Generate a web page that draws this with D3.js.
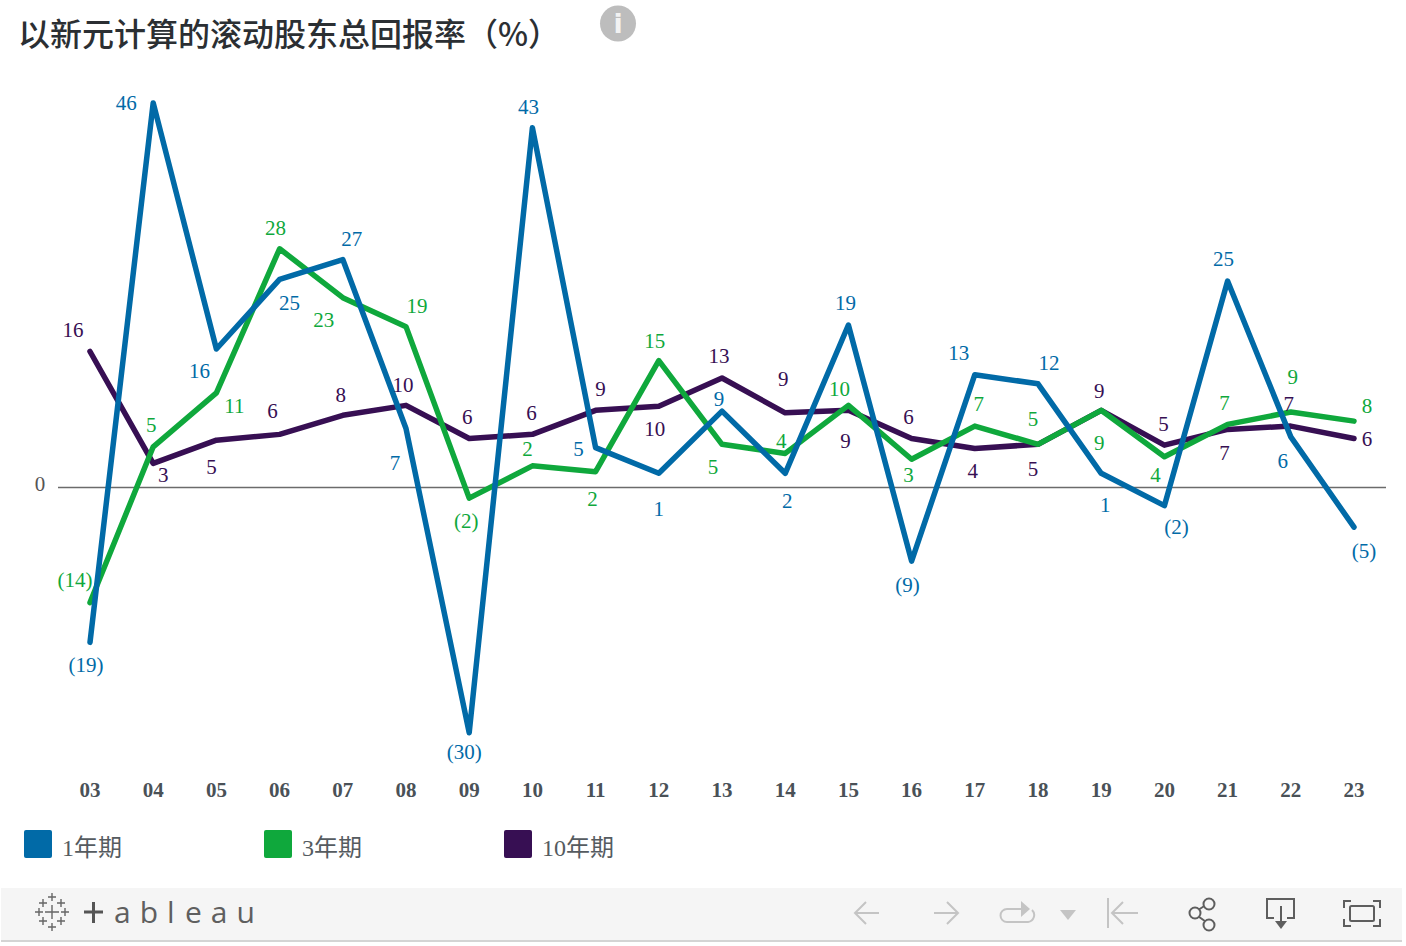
<!DOCTYPE html>
<html><head><meta charset="utf-8">
<script src="https://cdn.jsdelivr.net/npm/d3@7"></script>
<style>
html,body{margin:0;padding:0;background:#fff;overflow:hidden}
svg{display:block}
text{font-family:"Liberation Serif","Noto Sans CJK SC",serif}
</style></head><body>
<svg id="c" width="1406" height="946"></svg>
<script>
const titleText = "以新元计算的滚动股东总回报率（%）";
const years = ["03","04","05","06","07","08","09","10","11","12","13","14","15","16","17","18","19","20","21","22","23"];
const seriesNames = ["1年期","3年期","10年期"];

const oneYear = [-18.7,46.4,16.7,25.1,27.5,7.1,-29.6,43.4,4.8,1.7,9.2,1.7,19.6,-8.9,13.6,12.5,1.7,-2.2,24.9,6.1,-4.8];
const threeYear = [-13.9,4.9,11.4,28.8,22.9,19.4,-1.3,2.6,1.9,15.3,5.2,4.1,9.9,3.4,7.4,5.2,9.3,3.7,7.6,9.1,8.0];
const tenYear = [16.4,2.9,5.7,6.4,8.7,9.9,5.9,6.4,9.3,9.8,13.2,9.0,9.3,5.9,4.7,5.2,9.3,5.1,7.0,7.4,5.9];

const oneYearLabels = ["(19)","46","16","25","27","7","(30)","43","5","1","9","2","19","(9)","13","12","1","(2)","25","6","(5)"];
const threeYearLabels = ["(14)","5","11","28","23","19","(2)","2","2","15","5","4","10","3","7","5","9","4","7","9","8"];
const tenYearLabels = ["16","3","5","6","8","10","6","6","9","10","13","9","9","6","4","5","9","5","7","7","6"];

// manual placement of each value label relative to its point (px)
const oneYearDx = [-4,-27,-17,10,9,-11,-5,-4,-17,0,-3,2,-3,-4,-16,11,4,12,-4,-8,10];
const oneYearDy = [23,1,23,24,-20,35,20,-20,2,36,-12,28,-21,24,-21,-20,32,22,-21,25,24];
const threeYearDx = [-15,-2,18,-4,-19,11,-3,-5,-3,-4,-9,-4,-9,-3,4,-5,-2,-9,-3,2,13];
const threeYearDy = [-22,-21,14,-20,23,-20,23,-16,28,-19,23,-12,-16,16,-21,-25,33,19,-21,-34,-14];
const tenYearDx = [-17,10,-5,-7,-2,-3,-2,-1,5,-4,-3,-2,-3,-3,-2,-5,-2,-1,-3,-2,13];
const tenYearDy = [-21,12,27,-23,-20,-20,-21,-21,-21,23,-21,-33,31,-21,23,25,-19,-20,24,-21,1];

const colors = ["#016aa7","#0fa83c","#370f53"];
const svg = d3.select("#c");

const x = d3.scalePoint().domain(years).range([90,1354]);
const y = d3.scaleLinear().domain([-30,46.4]).range([736,102.9]);

// title
svg.append("text").attr("x",18).attr("y",46).attr("font-size",32).attr("font-weight",500)
  .attr("fill","#2b2f33").style("font-family",'"Noto Sans CJK SC",sans-serif').text(titleText);

// info icon
const info = svg.append("g").attr("transform","translate(618,23.5)");
info.append("ellipse").attr("rx",18).attr("ry",18).attr("fill","#bdbdbd");
info.append("text").attr("text-anchor","middle").attr("y",9).attr("font-size",27).attr("font-weight",700)
  .attr("fill","#f2f2f2").style("font-family",'"DejaVu Sans",sans-serif').text("i");

// zero line + label
svg.append("line").attr("x1",58).attr("x2",1386).attr("y1",y(0)).attr("y2",y(0)).attr("stroke","#6b6b6b").attr("stroke-width",1.5);
svg.append("text").attr("x",40).attr("y",y(0)-3).attr("dy","0.32em").attr("text-anchor","middle").attr("font-size",21).attr("fill","#555").text("0");

// x axis
const axis = svg.append("g").attr("transform","translate(-0.5,778)").call(d3.axisBottom(x).tickSize(0).tickPadding(0));
axis.select(".domain").remove();
axis.selectAll("text").attr("dy","0.71em").attr("y",4).attr("font-size",21).attr("font-weight",700).attr("fill","#4a5157")
  .style("font-family",'"Liberation Serif",serif');

// series
const allSeries = [
 {vals:oneYear,labs:oneYearLabels,dx:oneYearDx,dy:oneYearDy},
 {vals:threeYear,labs:threeYearLabels,dx:threeYearDx,dy:threeYearDy},
 {vals:tenYear,labs:tenYearLabels,dx:tenYearDx,dy:tenYearDy}
];
const line = d3.line().x((d,i)=>x(years[i])).y(d=>y(d));
[2,1,0].forEach(k=>{
  svg.append("path").attr("d",line(allSeries[k].vals)).attr("fill","none").attr("stroke",colors[k])
    .attr("stroke-width",5.5).attr("stroke-linejoin","round").attr("stroke-linecap","round");
});
allSeries.forEach((s,k)=>{
  svg.append("g").selectAll("text").data(s.labs).join("text")
    .attr("x",(d,i)=>x(years[i])+s.dx[i])
    .attr("y",(d,i)=>y(s.vals[i])+s.dy[i]-1)
    .attr("dy","0.35em").attr("text-anchor","middle").attr("font-size",21).attr("fill",colors[k]).text(d=>d);
});

// legend
const legendX = d3.scaleOrdinal().domain(seriesNames).range([24,264,504]);
const lg = svg.append("g").selectAll("g").data(seriesNames).join("g").attr("transform",d=>`translate(${legendX(d)},830)`);
lg.append("rect").attr("width",28).attr("height",28).attr("rx",2).attr("fill",(d,i)=>colors[i]);
lg.append("text").attr("x",38).attr("y",26).attr("font-size",24).attr("fill","#555b60").text(d=>d);

// toolbar
svg.append("rect").attr("x",1).attr("y",888).attr("width",1401).attr("height",52).attr("fill","#f5f5f5");
svg.append("rect").attr("x",1).attr("y",940).attr("width",1401).attr("height",2).attr("fill","#d4d4d4");

// tableau logo
const logo = svg.append("g").attr("stroke","#666").attr("fill","none").attr("stroke-width",1.4);
const plus = (cx,cy,r)=>logo.append("path").attr("d",`M${cx-r},${cy}H${cx+r}M${cx},${cy-r}V${cy+r}`);
[[52,912,7],[52,897,4],[52,927,4],[39,912,4],[65,912,4],[43,903,4],[61,903,4],[43,921,4],[61,921,4]].forEach(p=>plus(...p));
logo.append("path").attr("d","M84,912H103M93.5,902V923").attr("stroke-width",3).attr("stroke","#555");
svg.append("text").attr("x",114).attr("y",923).attr("font-size",30).attr("fill","#5f5f5f").attr("letter-spacing",9)
  .style("font-family",'"Open Sans",sans-serif').style("font-weight",400).text("abl");
svg.append("text").attr("x",185).attr("y",923).attr("font-size",30).attr("fill","#5f5f5f").attr("letter-spacing",9)
  .style("font-family",'"Open Sans",sans-serif').style("font-weight",400).text("eau");

// toolbar icons
const ic = svg.append("g").attr("fill","none").attr("stroke-width",2);
const grey="#c4c4c4", dark="#5e5e5e";
ic.append("path").attr("d","M879,913H855M866,902L855,913L866,924").attr("stroke",grey);
ic.append("path").attr("d","M934,913H958M947,902L958,913L947,924").attr("stroke",grey);
ic.append("path").attr("d","M1024,909H1007A6.5,6.5 0 0 0 1007,922H1028A7,7 0 0 0 1032,910").attr("stroke",grey);
ic.append("path").attr("d","M1021,901L1030,909L1021,917Z").attr("fill",grey).attr("stroke","none");
ic.append("path").attr("d","M1060,910H1076L1068,920Z").attr("fill",grey).attr("stroke","none");
ic.append("path").attr("d","M1108,898V928M1138,913H1112M1123,902L1112,913L1123,924").attr("stroke",grey);
ic.append("path").attr("d","M1195,912L1209,903M1195,914L1209,924").attr("stroke",dark);
[[1195,913],[1209,904],[1209,925]].forEach(c=>ic.append("circle").attr("cx",c[0]).attr("cy",c[1]).attr("r",5.5).attr("stroke",dark).attr("fill","#f5f5f5"));
ic.append("path").attr("d","M1274,918H1267V899H1294V918H1287M1281,906V922").attr("stroke",dark);
ic.append("path").attr("d","M1275,921H1287L1281,929Z").attr("fill",dark).attr("stroke","none");
ic.append("rect").attr("x",1350).attr("y",906).attr("width",24).attr("height",15).attr("rx",1.5).attr("stroke",dark);
ic.append("path").attr("d","M1344,908V901H1351M1373,901H1380V908M1380,919V926H1373M1351,926H1344V919").attr("stroke",dark);
</script>
</body></html>
